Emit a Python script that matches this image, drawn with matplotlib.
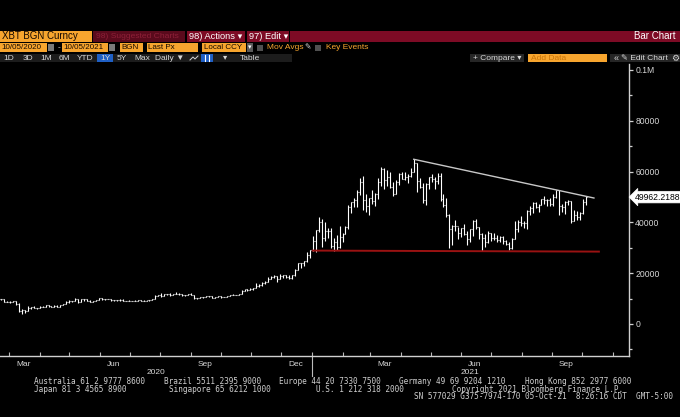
import numpy as np
import pandas as pd
import matplotlib
matplotlib.use('Agg')
import matplotlib.pyplot as plt
import matplotlib.dates as mdates
import matplotlib.transforms as mtransforms
from matplotlib.patches import Rectangle

# XBT BGN Curncy, 3-day OHLC bars (open = previous close)
start = '2020-02-22'
close = [9670, 8790, 8560, 8760, 9120, 7900, 4970, 5360, 5230, 6190,
         6740, 6370, 6390, 6800, 6790, 7300, 6890, 6640, 7260, 6880,
         7430, 7700, 8800, 8960, 9050, 9800, 8600, 9730, 9680, 9050,
         8780, 9000, 9440, 10200, 9800, 9780, 9880, 9390, 9460, 9360,
         9620, 9160, 9190, 9230, 9130, 9250, 9290, 9240, 9150, 9370,
         9540, 9950, 10910, 11350, 11210, 11770, 11680, 11580, 11860, 11970,
         11650, 11340, 11320, 11680, 11410, 10170, 10230, 10440, 10790, 10940,
         10920, 10240, 10730, 10840, 10580, 10790, 10930, 11380, 11430, 11370,
         11920, 13030, 13650, 13570, 13740, 14130, 14830, 15290, 16320, 16730,
         17820, 18400, 18730, 17720, 18770, 19150, 18320, 18030, 19240, 21310,
         23860, 23820, 24660, 27040, 29000, 32780, 36820, 40250, 34000, 36800,
         36630, 30830, 32290, 30400, 34300, 35500, 38150, 46200, 47900, 48700,
         52150, 55900, 48900, 46300, 49600, 48400, 51200, 55900, 61200, 56800,
         58000, 54100, 51300, 55800, 58900, 57100, 58000, 58100, 59800, 63200,
         56200, 53800, 49000, 55000, 57700, 57200, 56400, 58200, 49200, 46700,
         42900, 37300, 38700, 38400, 35700, 37600, 35500, 33400, 37300, 40500,
         38100, 35600, 33700, 32200, 35900, 33800, 33700, 32900, 34200, 32800,
         31500, 29800, 33600, 37300, 40000, 39900, 39700, 44600, 45600, 47800,
         45900, 46700, 49300, 48900, 48900, 47100, 50000, 52700, 46400, 46000,
         48100, 48300, 40700, 42800, 42200, 43800, 48200, 49960]
high = [9970, 9700, 8980, 8900, 9170, 9180, 8150, 5970, 5390, 6900,
        6840, 6970, 6400, 7090, 7030, 7440, 7340, 7200, 7290, 7310,
        7500, 7700, 8900, 9440, 9180, 10050, 9800, 9860, 9940, 9890,
        9300, 9200, 9630, 10390, 10400, 9860, 9990, 9940, 9530, 9560,
        9710, 9680, 9250, 9300, 9250, 9370, 9450, 9330, 9280, 9400,
        9580, 10000, 11400, 11450, 12100, 11910, 11900, 12060, 11970, 12470,
        12050, 11800, 11600, 11720, 12080, 11470, 10350, 10480, 10800, 11080,
        11180, 10990, 10760, 10940, 10950, 10800, 10950, 11480, 11720, 11600,
        12000, 13200, 13760, 13800, 14100, 14240, 15970, 15830, 16480, 16880,
        18480, 18800, 19420, 18900, 19860, 19300, 19400, 19200, 19400, 21560,
        24200, 24100, 24790, 28400, 29300, 34800, 36900, 41950, 41400, 40100,
        37950, 37850, 33800, 34900, 38500, 35900, 38700, 46800, 48200, 49700,
        52600, 57500, 58350, 51300, 49800, 52600, 51400, 57300, 61700, 61600,
        60500, 59800, 55800, 56600, 59500, 60000, 59800, 58900, 61300, 64800,
        63500, 57500, 55400, 55500, 57900, 58900, 58000, 59500, 59500, 51300,
        49700, 43500, 38800, 40800, 38100, 37900, 39300, 36800, 37500, 40900,
        41300, 38200, 35800, 35300, 36600, 36000, 35900, 35000, 34600, 34600,
        33200, 32400, 33700, 40500, 40900, 42600, 40400, 44700, 46600, 47900,
        48100, 47100, 49400, 50500, 49200, 49600, 51000, 52900, 52800, 47100,
        48400, 48800, 48400, 45000, 44300, 44100, 49200, 50500]
low = [9580, 8600, 8500, 8430, 8700, 7630, 4570, 3860, 4450, 5100,
       5790, 6300, 5870, 6180, 6600, 6770, 6780, 6600, 6560, 6830,
       6800, 7420, 7680, 8420, 8750, 8950, 8110, 8550, 9150, 8950,
       8700, 8640, 8970, 9400, 9300, 9590, 9650, 9140, 8990, 9250,
       9200, 9030, 8900, 9000, 8970, 9000, 9140, 9160, 9090, 9110,
       9140, 9300, 9900, 10870, 10600, 11100, 11350, 11150, 11500, 11680,
       11600, 11130, 11150, 11300, 11230, 9900, 9900, 10100, 10250, 10620,
       10820, 10140, 10200, 10640, 10400, 10500, 10540, 10830, 11300, 11260,
       11350, 11900, 12880, 12950, 13430, 13220, 14100, 14700, 15140, 15790,
       16560, 17700, 18000, 16400, 17550, 18180, 18200, 17600, 17650, 19000,
       21230, 21900, 22700, 24600, 25900, 28800, 28200, 36200, 30300, 32500,
       33850, 30100, 28900, 29200, 29900, 32300, 35400, 37400, 43800, 46200,
       45900, 50900, 45000, 44100, 43000, 47200, 46300, 49300, 54300, 53100,
       54200, 53700, 50400, 51300, 54700, 56900, 56500, 55500, 58000, 59800,
       52000, 53500, 47500, 47000, 53000, 56000, 53100, 55300, 48600, 46000,
       42000, 30000, 31100, 36500, 33600, 34100, 34900, 31000, 32400, 34700,
       37400, 33400, 28800, 30200, 32000, 32700, 33100, 32100, 32300, 31600,
       31100, 29300, 29500, 33400, 36400, 38400, 37600, 37400, 43100, 43800,
       45600, 43900, 46700, 47200, 46400, 46500, 46600, 49500, 43000, 44200,
       43400, 46800, 39600, 40600, 40800, 40900, 43300, 46900]
first_open = 9900
last_px = 49962.2188

resist_dates = ['2021-04-14', '2021-10-13']
resist_vals = [64850, 49600]
support_dates = ['2021-01-02', '2021-10-18']
support_vals = [28900, 28500]

y_ticks = [0, 20000, 40000, 60000, 80000, 100000]
y_labels = ['0', '20000', '40000', '60000', '80000', '0.1M']
month_labels = ['Mar', 'Jun', 'Sep', 'Dec', 'Mar', 'Jun', 'Sep']
month_label_dates = ['2020-03-16', '2020-06-15', '2020-09-15', '2020-12-16',
                     '2021-03-16', '2021-06-15', '2021-09-15']

ORANGE = '#f7a52e'
RED = '#7d0b25'
FG = '#d6d6d6'
FOOT = '#cfcfcf'
SANS = ['Liberation Sans', 'DejaVu Sans']
MONO = 'DejaVu Sans Mono'

fig = plt.figure(figsize=(6.8, 4.17), dpi=100, facecolor='black')

# pixel canvas for the terminal chrome
bg = fig.add_axes([0, 0, 1, 1])
bg.set_xlim(0, 680)
bg.set_ylim(417, 0)
bg.axis('off')


def box(x0, x1, y0, y1, color):
    bg.add_patch(Rectangle((x0, y0), x1 - x0, y1 - y0, facecolor=color,
                           edgecolor='none'))


def label(x, y, s, color=FG, size=6.5, ha='left', family=SANS, **kw):
    bg.text(x, y, s, color=color, fontsize=size, ha=ha, va='center',
            family=family, **kw)


# row 1
box(0, 92, 30.5, 41.5, ORANGE)
label(2, 36.2, 'XBT BGN Curncy', color='#150800', size=7)
box(93, 185, 30.5, 41.5, '#5a0a1c')
label(96, 36.2, '98) Suggested Charts', color='#8e2038', size=6.1)
box(187, 680, 30.5, 41.5, RED)
box(245, 246.5, 30.5, 41.5, 'black')
box(288.5, 290, 30.5, 41.5, 'black')
label(189, 36.2, '98) Actions \u25be', color='white', size=6.7)
label(249, 36.2, '97) Edit \u25be', color='white', size=6.7)
label(675, 36.2, 'Bar Chart', color='white', size=7, ha='right')

# row 2
for x0, x1, s in [(0, 47, '10/05/2020'), (62, 108, '10/05/2021'),
                  (120, 143, 'BGN'), (147, 198, 'Last Px'),
                  (202, 246, 'Local CCY')]:
    box(x0, x1, 42.5, 52, ORANGE)
    label(x0 + 1.5, 47.5, s, color='#150800', size=5.8)
box(48, 54, 43.5, 51, '#7a7a7a')
box(109, 115, 43.5, 51, '#7a7a7a')
label(58.5, 47.5, '-', color=FG, size=6, ha='center')
box(247, 253, 42.5, 52, '#5a5a5a')
label(250, 47.5, '\u25be', color='white', size=5, ha='center')
box(257, 263, 44.5, 50.5, '#505050')
label(267, 47.5, 'Mov Avgs', color=ORANGE, size=6)
label(304, 47.5, '\u270e', color=FG, size=5.5)
box(315, 321, 44.5, 50.5, '#505050')
label(326, 47.5, 'Key Events', color=ORANGE, size=6)

# row 3
box(0, 292, 53.5, 62, '#1c1c1c')
box(97, 113, 53.5, 62, '#1f5fc4')
for x, s in [(9, '1D'), (28, '3D'), (46, '1M'), (64, '6M'), (85, 'YTD'),
             (105, '1Y'), (122, '5Y'), (142, 'Max'), (170, 'Daily \u25bc'),
             (225, '\u25be'), (250, 'Table')]:
    label(x, 58, s, size=6, ha='center')
bg.plot([190, 193, 195, 198], [60, 57, 59, 56], color=FG, lw=0.7)
box(201, 213, 53.5, 62, '#1f5fc4')
bg.plot([205, 205], [55, 61], color='white', lw=0.8)
bg.plot([209, 209], [55, 61], color='white', lw=0.8)
box(470, 524, 53.5, 62, '#262626')
label(497, 58, '+ Compare \u25be', size=6, ha='center')
box(528, 607, 53.5, 62, ORANGE)
label(531, 58, 'Add Data', color='#c97408', size=6)
box(610, 680, 53.5, 62, '#262626')
label(614, 58, '\u00ab', size=6.5)
label(621, 58, '\u270e Edit Chart', size=6)
label(675, 58, '\u2699', size=6.5, ha='center')

# footer
for x, s in [(34, 'Australia 61 2 9777 8600'), (164, 'Brazil 5511 2395 9000'),
             (279, 'Europe 44 20 7330 7500'), (399, 'Germany 49 69 9204 1210'),
             (525, 'Hong Kong 852 2977 6000')]:
    label(x, 381.5, s, size=5.6, family=MONO, color=FOOT)
for x, s in [(34, 'Japan 81 3 4565 8900'), (169, 'Singapore 65 6212 1000'),
             (316, 'U.S. 1 212 318 2000'),
             (452, 'Copyright 2021 Bloomberg Finance L.P.')]:
    label(x, 389, s, size=5.6, family=MONO, color=FOOT)
label(673, 396.5, 'SN 577029 G375-7974-170 05-Oct-21  8:26:16 CDT  GMT-5:00',
      size=5.6, family=MONO, color=FOOT, ha='right')

# price chart
ax = fig.add_axes([0, 61 / 417, 629 / 680, 292 / 417])
ax.set_facecolor('black')

xn = mdates.date2num(pd.date_range(start, periods=len(close), freq='3D'))
opens = [first_open] + close[:-1]
ax.vlines(xn, low, high, colors='white', lw=0.8)
ax.hlines(opens, xn - 1, xn, colors='white', lw=0.8)
ax.hlines(close, xn, xn + 1, colors='white', lw=0.8)

ax.plot(mdates.date2num(pd.to_datetime(resist_dates)), resist_vals,
        color='#c8c8c8', lw=1)
ax.plot(mdates.date2num(pd.to_datetime(support_dates)), support_vals,
        color='#9a1212', lw=1.4)

x0 = mdates.date2num(pd.Timestamp('2020-02-21'))
x1 = mdates.date2num(pd.Timestamp('2021-11-17 10:00'))
jan1 = mdates.date2num(pd.Timestamp('2021-01-01'))
ax.set_xlim(x0, x1)
ax.set_ylim(-12600, 102360)

for side in ['top', 'left']:
    ax.spines[side].set_visible(False)
for side in ['right', 'bottom']:
    ax.spines[side].set_color('#d0d0d0')
    ax.spines[side].set_linewidth(1)

ax.yaxis.tick_right()
ax.set_yticks(y_ticks, labels=y_labels)
ax.set_yticks(np.arange(-10000, 100001, 10000), minor=True)
ax.tick_params(axis='y', which='major', direction='out', length=3, width=0.9,
               color='#d0d0d0', labelcolor=FG, labelsize=6.2, pad=1.5)
ax.tick_params(axis='y', which='minor', direction='out', length=2, width=0.9,
               color='#d0d0d0')
for t in ax.get_yticklabels():
    t.set_family(SANS)

month_starts = mdates.date2num(pd.date_range('2020-03-01', '2021-11-01', freq='MS'))
ax.set_xticks(month_starts, labels=[''] * len(month_starts))
ax.set_xticks(mdates.date2num(pd.to_datetime(month_label_dates)),
              labels=month_labels, minor=True)
ax.tick_params(axis='x', which='major', direction='in', length=3, width=0.8,
               color='#bbbbbb')
ax.tick_params(axis='x', which='minor', length=0, labelcolor=FG, labelsize=6,
               pad=3.5)
for t in ax.get_xticklabels(minor=True):
    t.set_family(SANS)

trans = mtransforms.blended_transform_factory(ax.transData, ax.transAxes)
ax.plot([jan1, jan1], [0, -0.068], transform=trans, clip_on=False,
        color='#bbbbbb', lw=0.8)
ax.text((x0 + jan1) / 2, -0.056, '2020', transform=trans, ha='center',
        va='center', fontsize=6, color=FG, family=SANS)
ax.text((jan1 + x1) / 2, -0.056, '2021', transform=trans, ha='center',
        va='center', fontsize=6, color=FG, family=SANS)

ax.annotate(f'{last_px:.4f}', xy=(1, last_px),
            xycoords=mtransforms.blended_transform_factory(ax.transAxes, ax.transData),
            xytext=(4.5, 0), textcoords='offset points', ha='left', va='center',
            fontsize=6.2, family=SANS, color='black', annotation_clip=False,
            bbox=dict(boxstyle='larrow,pad=0.15', fc='white', ec='white', lw=0.5))

fig.savefig('out.png', dpi=100, facecolor='black')
